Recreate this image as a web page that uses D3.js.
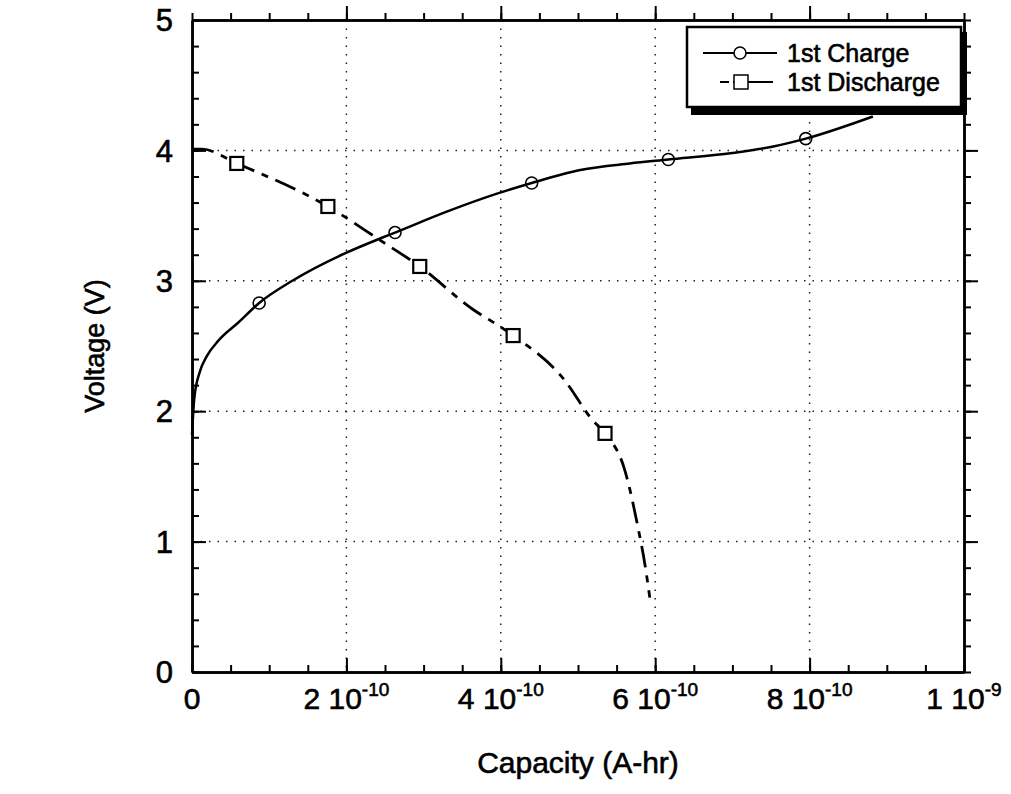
<!DOCTYPE html>
<html>
<head>
<meta charset="utf-8">
<script src="https://cdn.jsdelivr.net/npm/d3@7"></script>
<style>
  body { margin: 0; background: #fff; }
  svg { display: block; font-family: Arial, "Liberation Sans", sans-serif; }
  svg text { fill: #000; stroke: #000; stroke-width: 0.6px; }
</style>
</head>
<body>
<div id="chart"></div>
<script>
// capacity in units of 1e-10 A-hr, voltage in V
const chargeCap = [0, 0.03, 0.1, 0.19, 0.34, 0.6, 0.87, 1.3, 1.98, 2.46, 2.63, 3.3, 3.96, 4.4, 5.03, 5.67, 6.17, 7.0, 7.53, 7.95, 8.82];
const chargeV   = [1.82, 2.1, 2.3, 2.42, 2.54, 2.68, 2.83, 3.0, 3.21, 3.33, 3.37, 3.53, 3.67, 3.75, 3.85, 3.9, 3.93, 3.98, 4.03, 4.09, 4.26];
const chargeMarkCap = [0.87, 2.63, 4.4, 6.17, 7.95];
const chargeMarkV   = [2.83, 3.37, 3.75, 3.93, 4.09];

const dischCap = [0, 0.13, 0.58, 1.76, 2.44, 2.95, 3.64, 3.96, 4.16, 4.81, 5.19, 5.35, 5.6, 5.79, 5.86, 5.93];
const dischV   = [4.01, 4.01, 3.9, 3.57, 3.31, 3.11, 2.78, 2.66, 2.58, 2.25, 1.93, 1.83, 1.56, 1.07, 0.85, 0.57];
const dischMarkCap = [0.58, 1.76, 2.95, 4.16, 5.35];
const dischMarkV   = [3.9, 3.57, 3.11, 2.58, 1.83];

const xTicks = [0, 2, 4, 6, 8, 10];
const xTickMant = ['0', '2 10', '4 10', '6 10', '8 10', '1 10'];
const xTickExp = ['', '-10', '-10', '-10', '-10', '-9'];
const yTicks = [0, 1, 2, 3, 4, 5];
const seriesNames = ['1st Charge', '1st Discharge'];

const width = 1011, height = 794;
const margin = { left: 192, right: 47, top: 20, bottom: 122 };
const iw = width - margin.left - margin.right;
const ih = height - margin.top - margin.bottom;

const x = d3.scaleLinear().domain([0, 10]).range([0, iw]);
const y = d3.scaleLinear().domain([0, 5]).range([ih, 0]);

const svg = d3.select('#chart').append('svg')
  .attr('width', width)
  .attr('height', height);

const g = svg.append('g')
  .attr('transform', `translate(${margin.left},${margin.top})`);

// dotted grid
g.append('g').selectAll('line')
  .data(xTicks.slice(1, -1))
  .join('line')
  .attr('x1', d => x(d)).attr('x2', d => x(d))
  .attr('y1', 0).attr('y2', ih)
  .attr('stroke', '#222').attr('stroke-width', 1.5)
  .attr('stroke-dasharray', '1.5,7');

g.append('g').selectAll('line')
  .data(yTicks.slice(1, -1))
  .join('line')
  .attr('y1', d => y(d)).attr('y2', d => y(d))
  .attr('x1', 0).attr('x2', iw)
  .attr('stroke', '#222').attr('stroke-width', 1.5)
  .attr('stroke-dasharray', '1.5,7');

// axes with inward ticks on all four sides
const xMinor = d3.range(0, 10.01, 0.5);
const yMinor = d3.range(0, 5.01, 0.2);

function styleAxis(sel) {
  sel.select('.domain').attr('stroke', '#000').attr('stroke-width', 2.5);
  sel.selectAll('.tick line').attr('stroke', '#000').attr('stroke-width', 2);
  sel.selectAll('.tick text').remove();
}

[[d3.axisBottom(x), `translate(0,${ih})`, -7, -14, xMinor, xTicks],
 [d3.axisTop(x), 'translate(0,0)', 7, 14, xMinor, xTicks]].forEach(([ax, tr, mn, mj, minor, major]) => {
  g.append('g').attr('transform', tr)
    .call(ax.tickValues(minor).tickSize(mn).tickSizeOuter(0).tickFormat(''))
    .call(styleAxis);
  g.append('g').attr('transform', tr)
    .call(ax.tickValues(major.slice(1, -1)).tickSize(mj).tickSizeOuter(0).tickFormat(''))
    .call(styleAxis);
});

[[d3.axisLeft(y), 'translate(0,0)', -7, -14],
 [d3.axisRight(y), `translate(${iw},0)`, 7, 14]].forEach(([ax, tr, mn, mj]) => {
  g.append('g').attr('transform', tr)
    .call(ax.tickValues(yMinor).tickSize(mn).tickSizeOuter(0).tickFormat(''))
    .call(styleAxis);
  g.append('g').attr('transform', tr)
    .call(ax.tickValues(yTicks.slice(1, -1)).tickSize(mj).tickSizeOuter(0).tickFormat(''))
    .call(styleAxis);
});

// tick labels
const xl = g.append('g').selectAll('text')
  .data(xTicks)
  .join('text')
  .attr('x', d => x(d))
  .attr('y', ih + 37)
  .attr('text-anchor', 'middle')
  .attr('font-size', 30);
xl.append('tspan').text((d, i) => xTickMant[i]);
xl.append('tspan')
  .attr('dy', -13)
  .attr('font-size', 19)
  .text((d, i) => xTickExp[i]);

g.append('g').selectAll('text')
  .data(yTicks)
  .join('text')
  .attr('x', -19)
  .attr('y', d => y(d))
  .attr('dy', '0.36em')
  .attr('text-anchor', 'end')
  .attr('font-size', 31)
  .text(d => d);

// axis titles
svg.append('text')
  .attr('x', margin.left + iw / 2)
  .attr('y', 773)
  .attr('text-anchor', 'middle')
  .attr('font-size', 30)
  .text('Capacity (A-hr)');

svg.append('text')
  .attr('transform', `translate(104,${margin.top + ih / 2}) rotate(-90)`)
  .attr('text-anchor', 'middle')
  .attr('font-size', 27)
  .text('Voltage (V)');

// curves
const line = d3.line()
  .x(d => x(d[0]))
  .y(d => y(d[1]))
  .curve(d3.curveMonotoneX);

g.append('path')
  .datum(d3.zip(chargeCap, chargeV))
  .attr('d', line)
  .attr('fill', 'none')
  .attr('stroke', '#000')
  .attr('stroke-width', 2.5);

g.append('path')
  .datum(d3.zip(dischCap, dischV))
  .attr('d', line)
  .attr('fill', 'none')
  .attr('stroke', '#000')
  .attr('stroke-width', 2.8)
  .attr('stroke-dasharray', '22,8,7,8');

g.append('g').selectAll('circle')
  .data(d3.zip(chargeMarkCap, chargeMarkV))
  .join('circle')
  .attr('cx', d => x(d[0]))
  .attr('cy', d => y(d[1]))
  .attr('r', 6)
  .attr('fill', 'none')
  .attr('stroke', '#000')
  .attr('stroke-width', 1.6);

g.append('g').selectAll('rect')
  .data(d3.zip(dischMarkCap, dischMarkV))
  .join('rect')
  .attr('x', d => x(d[0]) - 6.5)
  .attr('y', d => y(d[1]) - 6.5)
  .attr('width', 13)
  .attr('height', 13)
  .attr('fill', '#fff')
  .attr('stroke', '#000')
  .attr('stroke-width', 2.2);

// legend
const lg = svg.append('g').attr('transform', 'translate(687,27)');
lg.append('rect')
  .attr('x', 4).attr('y', 5)
  .attr('width', 276).attr('height', 83)
  .attr('fill', '#000');
lg.append('rect')
  .attr('x', 0).attr('y', 0)
  .attr('width', 274).attr('height', 80)
  .attr('fill', '#fff')
  .attr('stroke', '#000')
  .attr('stroke-width', 2.5);

lg.append('line')
  .attr('x1', 16).attr('x2', 90).attr('y1', 26).attr('y2', 26)
  .attr('stroke', '#000').attr('stroke-width', 1.8);
lg.append('circle')
  .attr('cx', 53).attr('cy', 26).attr('r', 6)
  .attr('fill', '#fff').attr('stroke', '#000').attr('stroke-width', 1.5);

lg.append('line')
  .attr('x1', 33).attr('x2', 86).attr('y1', 55).attr('y2', 55)
  .attr('stroke', '#000').attr('stroke-width', 1.8)
  .attr('stroke-dasharray', '9,4,40');
lg.append('rect')
  .attr('x', 47).attr('y', 48).attr('width', 14).attr('height', 14)
  .attr('fill', '#fff').attr('stroke', '#000').attr('stroke-width', 1.5);

lg.selectAll('text.lbl')
  .data(seriesNames)
  .join('text')
  .attr('class', 'lbl')
  .attr('x', 100)
  .attr('y', (d, i) => 35 + i * 29)
  .attr('font-size', 25)
  .text(d => d);
</script>
</body>
</html>
